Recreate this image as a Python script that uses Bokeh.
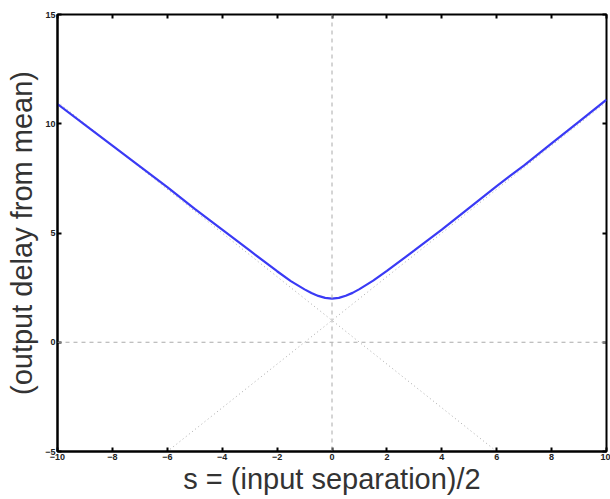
from bokeh.plotting import figure
from bokeh.models import Range1d, LinearAxis, FixedTicker, Span
from bokeh.embed import file_html
from bokeh.resources import INLINE

# Curve values
curve_x = [-10, -9, -8, -7, -6, -5, -4, -3, -2, -1.5, -1, -0.75, -0.5, -0.25, 0,
           0.25, 0.5, 0.75, 1, 1.5, 2, 3, 4, 5, 6, 7, 8, 9, 10]
curve_y = [10.9, 9.95, 9.0, 8.05, 7.1, 6.1, 5.15, 4.2, 3.25, 2.8, 2.42, 2.25, 2.12, 2.03, 2.0,
           2.03, 2.13, 2.26, 2.43, 2.82, 3.27, 4.2, 5.15, 6.15, 7.15, 8.1, 9.1, 10.1, 11.1]

# Dotted asymptotes
asym_x = [-10, 10]
asym_up = [-9, 11]
asym_down = [11, -9]

# Dashed reference lines
zero_x = 0
zero_y = 0

x_ticks = [-10, -8, -6, -4, -2, 0, 2, 4, 6, 8, 10]
y_ticks = [-5, 0, 5, 10, 15]

x_label = "s = (input separation)/2"
y_label = "(output delay from mean)"

p = figure(width=610, height=499, output_backend="svg", toolbar_location=None,
           x_range=Range1d(-10, 10), y_range=Range1d(-5, 15),
           min_border_left=57, min_border_right=4, min_border_top=14, min_border_bottom=48)
p.xgrid.visible = False
p.ygrid.visible = False
p.outline_line_color = "black"
p.outline_line_width = 2
p.background_fill_color = "white"
p.border_fill_color = "white"

p.add_layout(Span(location=zero_x, dimension="height", line_color="#aaaaaa",
                  line_dash="4 4", line_width=1))
p.add_layout(Span(location=zero_y, dimension="width", line_color="#aaaaaa",
                  line_dash="4 4", line_width=1))

p.line(asym_x, asym_up, line_color="#aaaaaa", line_dash="1 3", line_width=1)
p.line(asym_x, asym_down, line_color="#aaaaaa", line_dash="1 3", line_width=1)

p.line(curve_x, curve_y, line_color="#3a3af5", line_width=2.2)

for ax in (p.xaxis[0], p.yaxis[0]):
    ax.major_tick_in = 4
    ax.major_tick_out = 0
    ax.minor_tick_line_color = None
    ax.axis_line_width = 2
    ax.axis_line_color = "black"
    ax.major_tick_line_color = "black"
    ax.major_tick_line_width = 2
    ax.major_label_text_font = "Liberation Sans"
    ax.major_label_text_font_style = "bold"
    ax.major_label_text_font_size = "9px"
    ax.major_label_text_color = "#222222"
    ax.major_label_standoff = 2
    ax.axis_label_text_font = "Liberation Sans"
    ax.axis_label_text_font_style = "normal"
    ax.axis_label_text_color = "#333333"
    ax.axis_label_text_font_size = "29px"

p.xaxis[0].ticker = FixedTicker(ticks=x_ticks)
p.yaxis[0].ticker = FixedTicker(ticks=y_ticks)
p.xaxis[0].axis_label = x_label
p.yaxis[0].axis_label = y_label
p.xaxis[0].axis_label_standoff = 0
p.yaxis[0].axis_label_standoff = 4

top = LinearAxis(ticker=FixedTicker(ticks=x_ticks))
right = LinearAxis(ticker=FixedTicker(ticks=y_ticks))
top.major_label_overrides = {t: "" for t in x_ticks}
right.major_label_overrides = {t: "" for t in y_ticks}
for ax in (top, right):
    ax.major_tick_in = 4
    ax.major_tick_out = 0
    ax.minor_tick_line_color = None
    ax.axis_line_color = None
    ax.major_tick_line_color = "black"
    ax.major_tick_line_width = 2
    ax.major_label_text_color = None
    ax.major_label_standoff = 0
p.add_layout(top, "above")
p.add_layout(right, "right")

open("out.html", "w").write(file_html(p, INLINE))
